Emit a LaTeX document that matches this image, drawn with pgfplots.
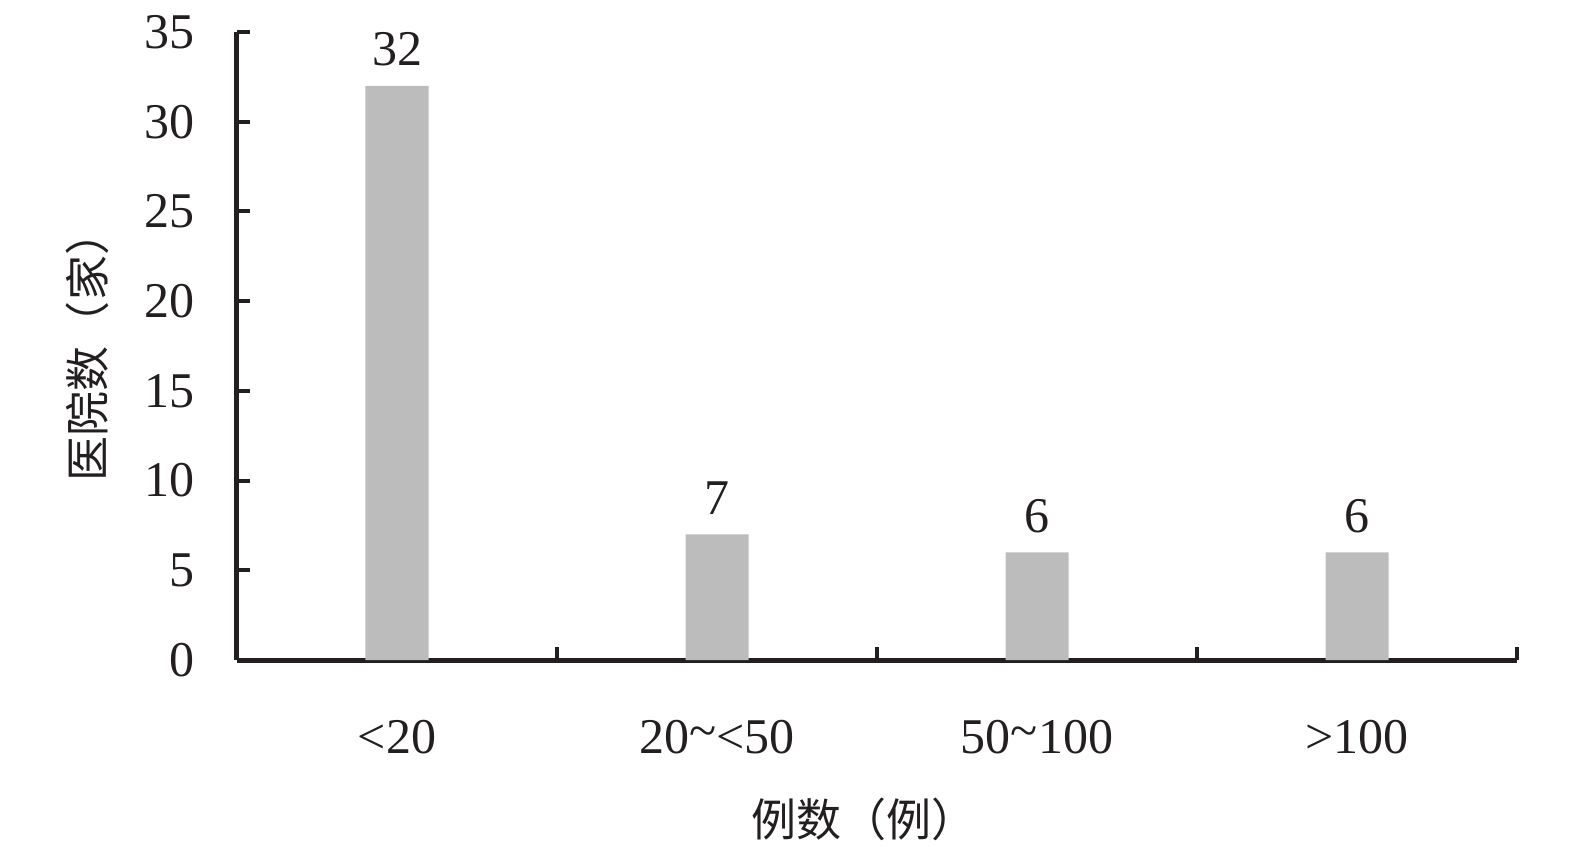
\documentclass[border=0pt]{standalone}
\usepackage{pgfplots}
\pgfplotsset{compat=1.18}
\usepackage{fontspec}
\setmainfont{Liberation Serif}
\newfontfamily\cjk{Noto Sans CJK SC}
\definecolor{axisblack}{RGB}{35,31,32}
\definecolor{bargray}{RGB}{188,188,188}
\begin{document}
\begin{tikzpicture}
% picture frame: 1px = 0.3pt, data origin (0,0) at (397,660) px
\useasboundingbox (-119.1pt,-55.8pt) rectangle (353.4pt,198pt);
\begin{axis}[
    ybar, bar width=18.9pt,
    at={(0pt,0pt)}, anchor=origin,
    width=384pt, height=188.4pt,
    scale only axis,
    xmin=-0.5, xmax=3.5,
    ymin=0, ymax=35,
    axis x line*=bottom, axis y line*=left,
    tick pos=left,
    axis line style={-, line width=1.5pt, color=axisblack},
    xtick={0,1,2,3},
    xticklabels={{<20},{20\raisebox{0.12em}{\char"007E}<50},{50\raisebox{0.12em}{\char"007E}100},{>100}},
    major x tick style={draw=none},
    minor xtick={0.5,1.5,2.5,3.5},
    minor tick length=3.9pt,
    minor x tick style={line width=1.2pt, color=axisblack},
    ytick={0,5,...,35},
    major tick length=3.9pt,
    y tick style={line width=1.2pt, color=axisblack},
    tick align=inside,
    xtick align=inside,
    ticklabel style={font=\fontsize{15}{17}\selectfont, color=axisblack},
    /pgf/number format/assume math mode=true,
    xticklabel style={anchor=base, yshift=-27.9pt, inner sep=0pt},
    yticklabel style={anchor=east, xshift=-12.6pt, inner sep=0pt},
    xlabel={\cjk 例数（例）},
    ylabel={\cjk 医院数（家）},
    label style={font=\fontsize{13.5}{16}\selectfont, color=axisblack},
    xlabel style={at={(axis description cs:0.49,0)}, anchor=base, yshift=-52.8pt, inner sep=0pt},
    ylabel style={at={(axis description cs:-0.117,0.5)}, anchor=center, inner sep=0pt},
    nodes near coords,
    nodes near coords style={font=\fontsize{15}{17}\selectfont, color=axisblack, anchor=base, yshift=6pt, inner sep=0pt},
    clip=false,
]
\addplot[fill=bargray, draw=none] coordinates {(0,32) (1,7) (2,6) (3,6)};
\end{axis}
\end{tikzpicture}
\end{document}
